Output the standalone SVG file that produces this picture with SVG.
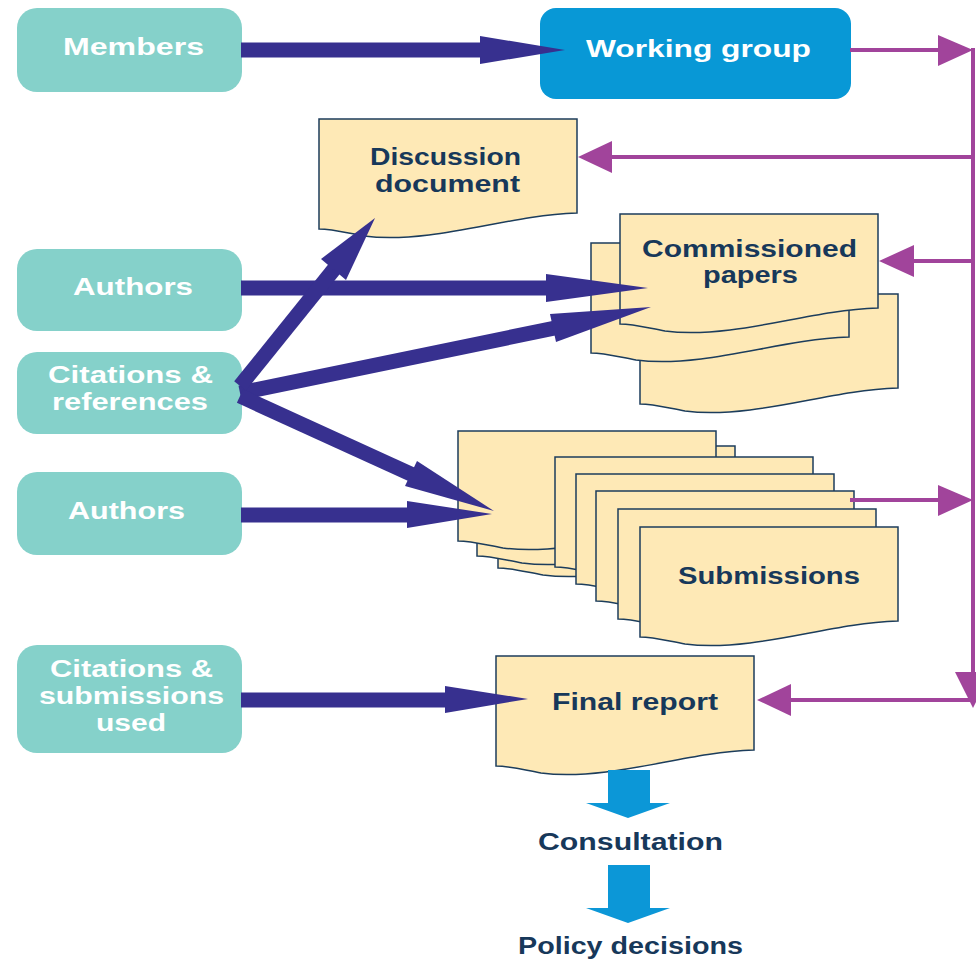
<svg xmlns="http://www.w3.org/2000/svg" xmlns:xlink="http://www.w3.org/1999/xlink" width="976" height="963" viewBox="0 0 976 963">
<defs>
<style>
.teal{fill:#85D1CA}
.wg{fill:#0898D6}
.doc{fill:#FEE9B6;stroke:#1C3D5C;stroke-width:1.5;stroke-linejoin:miter}
.wt{font-family:"Liberation Sans","Open Sans",sans-serif;font-weight:700;font-size:23.5px;fill:#FFFFFF}
.nt{font-family:"Liberation Sans","Open Sans",sans-serif;font-weight:700;font-size:23.5px;fill:#17385A}
.ind{stroke:#37308F;stroke-width:15;fill:none}
.indh{fill:#37308F}
.pur{stroke:#A1449B;stroke-width:4;fill:none}
.purh{fill:#A1449B}
.bl{fill:#0C97D7}
</style>
<path id="doc" d="M0,0 H258 V94 C205,96 160,110 110,116 C85,119 60,119 45,117 C28,114 14,110 0,110 Z"/>
</defs>
<rect width="976" height="963" fill="#FFFFFF"/>

<g id="members">
<rect class="teal" x="17" y="8" width="225" height="84" rx="20"/>
<text class="wt" x="63" y="55" textLength="141" lengthAdjust="spacingAndGlyphs">Members</text>
</g>
<g id="working-group">
<rect class="wg" x="540" y="8" width="311" height="91" rx="16"/>
<text class="wt" x="586" y="57" textLength="225" lengthAdjust="spacingAndGlyphs">Working group</text>
</g>
<g id="authors-1">
<rect class="teal" x="17" y="249" width="225" height="82" rx="20"/>
<text class="wt" x="73" y="295" textLength="120" lengthAdjust="spacingAndGlyphs">Authors</text>
</g>
<g id="citations-references">
<rect class="teal" x="17" y="352" width="225" height="82" rx="20"/>
<text class="wt" x="48" y="383" textLength="165" lengthAdjust="spacingAndGlyphs">Citations &amp;</text>
<text class="wt" x="52" y="410" textLength="156" lengthAdjust="spacingAndGlyphs">references</text>
</g>
<g id="authors-2">
<rect class="teal" x="17" y="472" width="225" height="83" rx="20"/>
<text class="wt" x="68" y="519" textLength="117" lengthAdjust="spacingAndGlyphs">Authors</text>
</g>
<g id="citations-submissions">
<rect class="teal" x="17" y="645" width="225" height="108" rx="20"/>
<text class="wt" x="50" y="677" textLength="163" lengthAdjust="spacingAndGlyphs">Citations &amp;</text>
<text class="wt" x="39" y="704" textLength="185" lengthAdjust="spacingAndGlyphs">submissions</text>
<text class="wt" x="96" y="731" textLength="70" lengthAdjust="spacingAndGlyphs">used</text>
</g>

<g id="discussion-document">
<use xlink:href="#doc" href="#doc" class="doc" transform="translate(319,119)"/>
<text class="nt" x="370" y="165" textLength="151" lengthAdjust="spacingAndGlyphs">Discussion</text>
<text class="nt" x="375" y="192" textLength="145" lengthAdjust="spacingAndGlyphs">document</text>
</g>
<g id="commissioned-papers">
<use xlink:href="#doc" href="#doc" class="doc" transform="translate(640,294)"/>
<use xlink:href="#doc" href="#doc" class="doc" transform="translate(591,243)"/>
<use xlink:href="#doc" href="#doc" class="doc" transform="translate(620,214)"/>
<text class="nt" x="642" y="256.5" textLength="215" lengthAdjust="spacingAndGlyphs">Commissioned</text>
<text class="nt" x="703" y="283" textLength="95" lengthAdjust="spacingAndGlyphs">papers</text>
</g>
<g id="submissions">
<use xlink:href="#doc" href="#doc" class="doc" transform="translate(498,458)"/>
<use xlink:href="#doc" href="#doc" class="doc" transform="translate(477,446)"/>
<use xlink:href="#doc" href="#doc" class="doc" transform="translate(458,431)"/>
<use xlink:href="#doc" href="#doc" class="doc" transform="translate(555,457)"/>
<use xlink:href="#doc" href="#doc" class="doc" transform="translate(576,474)"/>
<use xlink:href="#doc" href="#doc" class="doc" transform="translate(596,491)"/>
<use xlink:href="#doc" href="#doc" class="doc" transform="translate(618,509)"/>
<use xlink:href="#doc" href="#doc" class="doc" transform="translate(640,527)"/>
<text class="nt" x="678" y="584" textLength="182" lengthAdjust="spacingAndGlyphs">Submissions</text>
</g>
<g id="final-report">
<use xlink:href="#doc" href="#doc" class="doc" transform="translate(496,656)"/>
<text class="nt" x="552" y="710" textLength="166" lengthAdjust="spacingAndGlyphs">Final report</text>
</g>
<g id="consultation">
<text class="nt" x="538" y="850" textLength="185" lengthAdjust="spacingAndGlyphs">Consultation</text>
</g>
<g id="policy-decisions">
<text class="nt" x="518" y="954" textLength="225" lengthAdjust="spacingAndGlyphs">Policy decisions</text>
</g>

<g id="connectors">
<line class="ind" x1="241" y1="50" x2="482" y2="50"/>
<polygon class="indh" points="480,36 565,50 480,64"/>
<line class="ind" x1="241" y1="288" x2="548" y2="288"/>
<polygon class="indh" points="546,274 648,288 546,302"/>
<line class="ind" x1="240" y1="393" x2="555" y2="328"/>
<polygon class="indh" points="550,314 651,307 556,342"/>
<line class="ind" x1="240" y1="386" x2="335" y2="268"/>
<polygon class="indh" points="321,259 375,218 346,280"/>
<line class="ind" x1="240" y1="396" x2="413" y2="475"/>
<polygon class="indh" points="417,461 494,511 405,486"/>
<line class="ind" x1="241" y1="515" x2="409" y2="515"/>
<polygon class="indh" points="407,501 492,514 407,528"/>
<line class="ind" x1="241" y1="700" x2="447" y2="700"/>
<polygon class="indh" points="445,686 528,699 445,713"/>
<polyline class="pur" points="850,50 940,50"/>
<polygon class="purh" points="938,35 973,50 938,66"/>
<line class="pur" x1="973" y1="48" x2="973" y2="702"/>
<polygon class="purh" points="955,672 991,672 973,708"/>
<line class="pur" x1="975" y1="157" x2="610" y2="157"/>
<polygon class="purh" points="612,141 578,157 612,173"/>
<line class="pur" x1="975" y1="261" x2="912" y2="261"/>
<polygon class="purh" points="914,245 879,261 914,277"/>
<line class="pur" x1="850" y1="500" x2="940" y2="500"/>
<polygon class="purh" points="938,485 973,500 938,516"/>
<line class="pur" x1="975" y1="700" x2="789" y2="700"/>
<polygon class="purh" points="791,684 757,700 791,716"/>
<polygon class="bl" points="608,770 650,770 650,803 670,803 628,818 586,803 608,803"/>
<polygon class="bl" points="608,865 650,865 650,908 670,908 628,923 586,908 608,908"/>
</g>
</svg>
